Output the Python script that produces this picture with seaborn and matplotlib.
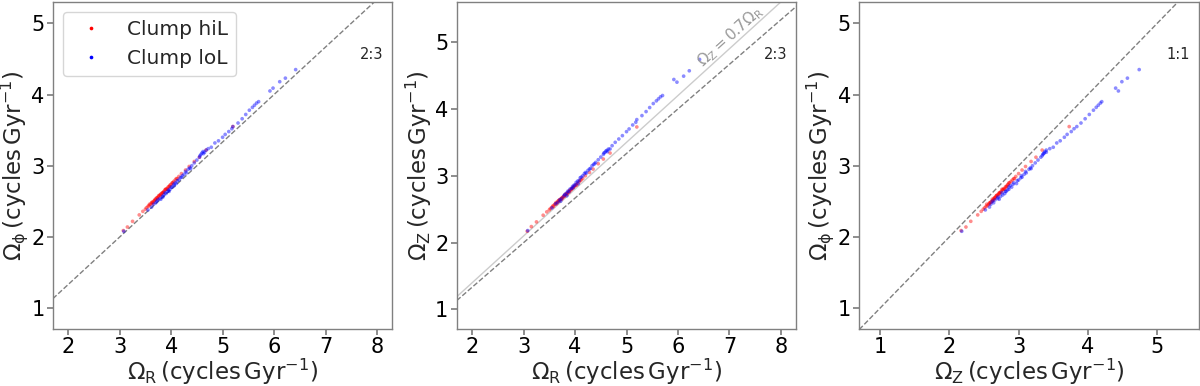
import matplotlib
matplotlib.use("Agg")
import matplotlib.pyplot as plt
import numpy as np
import pandas as pd
import seaborn as sns

sns.set_theme(style="ticks")
plt.rcParams.update({
    "font.family": ["DejaVu Sans"],
    "mathtext.fontset": "dejavusans",
    "axes.edgecolor": "#808080",
    "xtick.color": "#808080",
    "ytick.color": "#808080",
    "xtick.labelcolor": "black",
    "ytick.labelcolor": "black",
    "axes.linewidth": 1.0,
})

# ---------------------------------------------------------------- data
# Clump hiL: radial, vertical and azimuthal frequencies (cycles / Gyr)
hiL_R = [3.07, 3.15, 3.25, 3.38, 3.45, 3.50, 3.52, 3.55, 3.57, 3.60, 3.62, 3.63,
         3.65, 3.67, 3.68, 3.70, 3.72, 3.73, 3.75, 3.76, 3.78, 3.80, 3.81, 3.83,
         3.85, 3.86, 3.88, 3.90, 3.92, 3.94, 3.96, 3.98, 4.00, 4.02, 4.05, 4.08,
         4.10, 4.15, 4.20, 4.28, 4.35, 4.45, 4.55, 4.68, 5.20, 3.58, 3.64, 3.69,
         3.74, 3.79, 3.84, 3.89, 3.93, 3.97, 4.03, 4.12]
hiL_Z = [2.17, 2.24, 2.31, 2.41, 2.46, 2.49, 2.51, 2.53, 2.55, 2.57, 2.58, 2.60,
         2.60, 2.62, 2.63, 2.64, 2.65, 2.66, 2.67, 2.68, 2.69, 2.71, 2.72, 2.73,
         2.74, 2.75, 2.77, 2.78, 2.79, 2.81, 2.82, 2.84, 2.85, 2.87, 2.89, 2.91,
         2.93, 2.96, 3.00, 3.05, 3.10, 3.18, 3.25, 3.34, 3.73, 2.54, 2.58, 2.62,
         2.65, 2.69, 2.72, 2.76, 2.80, 2.83, 2.86, 2.94]
hiL_phi = [2.09, 2.14, 2.22, 2.31, 2.36, 2.39, 2.41, 2.43, 2.44, 2.46, 2.48, 2.49,
           2.49, 2.51, 2.51, 2.53, 2.55, 2.55, 2.57, 2.58, 2.59, 2.60, 2.61, 2.62,
           2.63, 2.64, 2.66, 2.67, 2.68, 2.70, 2.71, 2.73, 2.74, 2.76, 2.78, 2.80,
           2.82, 2.85, 2.89, 2.94, 2.99, 3.06, 3.12, 3.22, 3.55, 2.46, 2.47, 2.53,
           2.54, 2.58, 2.62, 2.67, 2.67, 2.71, 2.76, 2.82]

# Clump loL
loL_R = [3.08, 3.55, 3.62, 3.66, 3.70, 3.74, 3.78, 3.80, 3.83, 3.86, 3.88, 3.90,
         3.93, 3.95, 3.98, 4.00, 4.02, 4.05, 4.08, 4.10, 4.12, 4.15, 4.18, 4.22,
         4.25, 4.28, 4.30, 4.33, 4.36, 4.40, 4.45, 4.50, 4.55, 4.58, 4.60, 4.62,
         4.65, 4.68, 4.72, 4.78, 4.85, 4.92, 5.00, 5.05, 5.12, 5.18, 5.20, 5.30,
         5.38, 5.45, 5.52, 5.58, 5.62, 5.66, 5.70, 5.92, 5.98, 6.11, 6.22, 6.42,
         3.72, 3.84, 3.96, 4.06, 4.20, 4.38, 4.56, 4.63]
loL_Z = [2.18, 2.52, 2.58, 2.60, 2.64, 2.66, 2.70, 2.72, 2.74, 2.77, 2.76, 2.80,
         2.81, 2.84, 2.86, 2.86, 2.90, 2.92, 2.93, 2.97, 2.98, 3.00, 3.03, 3.04,
         3.08, 3.10, 3.11, 3.15, 3.17, 3.20, 3.24, 3.28, 3.32, 3.35, 3.37, 3.38,
         3.40, 3.40, 3.45, 3.50, 3.55, 3.60, 3.66, 3.70, 3.76, 3.80, 3.84, 3.90,
         3.96, 4.02, 4.08, 4.12, 4.15, 4.18, 4.20, 4.44, 4.40, 4.49, 4.57, 4.74,
         2.62, 2.70, 2.82, 2.88, 3.05, 3.18, 3.34, 3.36]
loL_phi = [2.08, 2.38, 2.42, 2.46, 2.48, 2.52, 2.54, 2.53, 2.57, 2.59, 2.62, 2.61,
           2.64, 2.66, 2.67, 2.70, 2.70, 2.74, 2.76, 2.75, 2.79, 2.80, 2.83, 2.86,
           2.88, 2.92, 2.90, 2.95, 2.97, 3.00, 3.04, 3.08, 3.12, 3.16, 3.18, 3.20,
           3.19, 3.22, 3.24, 3.26, 3.32, 3.35, 3.40, 3.44, 3.48, 3.52, 3.55, 3.60,
           3.66, 3.72, 3.78, 3.82, 3.85, 3.88, 3.90, 4.05, 4.09, 4.18, 4.23, 4.35,
           2.50, 2.56, 2.64, 2.72, 2.84, 2.96, 3.14, 3.17]

groups = ["Clump hiL", "Clump loL"]
group_colors = {"Clump hiL": "red", "Clump loL": "blue"}

df = pd.concat([
    pd.DataFrame({"R": hiL_R, "Z": hiL_Z, "phi": hiL_phi, "group": groups[0]}),
    pd.DataFrame({"R": loL_R, "Z": loL_Z, "phi": loL_phi, "group": groups[1]}),
])

lab = {
    "R": r"$\Omega_{\rm R}\,(\rm cycles\,Gyr^{-1})$",
    "Z": r"$\Omega_{\rm Z}\,(\rm cycles\,Gyr^{-1})$",
    "phi": r"$\Omega_{\rm \phi}\,(\rm cycles\,Gyr^{-1})$",
}

# (x, y, xlim, ylim, xticks, ratio line, ratio label)
panels = [
    ("R", "phi", (1.7, 8.3), (0.71, 5.3), [2, 3, 4, 5, 6, 7, 8], 2 / 3, "2:3"),
    ("R", "Z", (1.7, 8.3), (0.71, 5.6), [2, 3, 4, 5, 6, 7, 8], 2 / 3, "2:3"),
    ("Z", "phi", (0.7, 5.6), (0.71, 5.3), [1, 2, 3, 4, 5], 1.0, "1:1"),
]
lefts = [0.044, 0.3806, 0.716]

fig = plt.figure(figsize=(12, 3.86), dpi=100)
for i, (xc, yc, xl, yl, xt, ratio, rlab) in enumerate(panels):
    ax = fig.add_axes([lefts[i], 0.148, 0.283, 0.847])
    xs = np.array(xl)
    ax.plot(xs, ratio * xs, ls="--", color="#808080", lw=1.0, zorder=1)
    if i == 1:
        ax.plot(xs, 0.7 * xs, ls="-", color="#cccccc", lw=1.0, zorder=1)
        ax.text(7.02, 5.08, r"$\Omega_{\rm Z} = 0.7\Omega_{\rm R}$", color="#9a9a9a",
                fontsize=11, rotation=42, ha="center", va="center")
    sns.scatterplot(data=df, x=xc, y=yc, hue="group", palette=group_colors,
                    s=7, alpha=0.45, linewidth=0, ax=ax, legend=(i == 0), zorder=2)
    ax.text(0.94, 0.84, rlab, transform=ax.transAxes, fontsize=10.5,
            ha="center", va="center")
    ax.set_xlim(xl); ax.set_ylim(yl)
    ax.set_xticks(xt); ax.set_yticks([1, 2, 3, 4, 5])
    ax.tick_params(labelsize=15, length=4, pad=2)
    ax.set_xlabel(lab[xc], fontsize=16.5, labelpad=-0.5)
    ax.set_ylabel(lab[yc], fontsize=16.5)
    ax.yaxis.set_label_coords(-0.068, 0.5)
    if i == 0:
        leg = ax.legend(loc="upper left", fontsize=14.5, markerscale=1.0,
                        title=None, framealpha=0.8)
        for h in leg.legend_handles:
            h.set_alpha(1)

fig.savefig("out.png", dpi=100)
